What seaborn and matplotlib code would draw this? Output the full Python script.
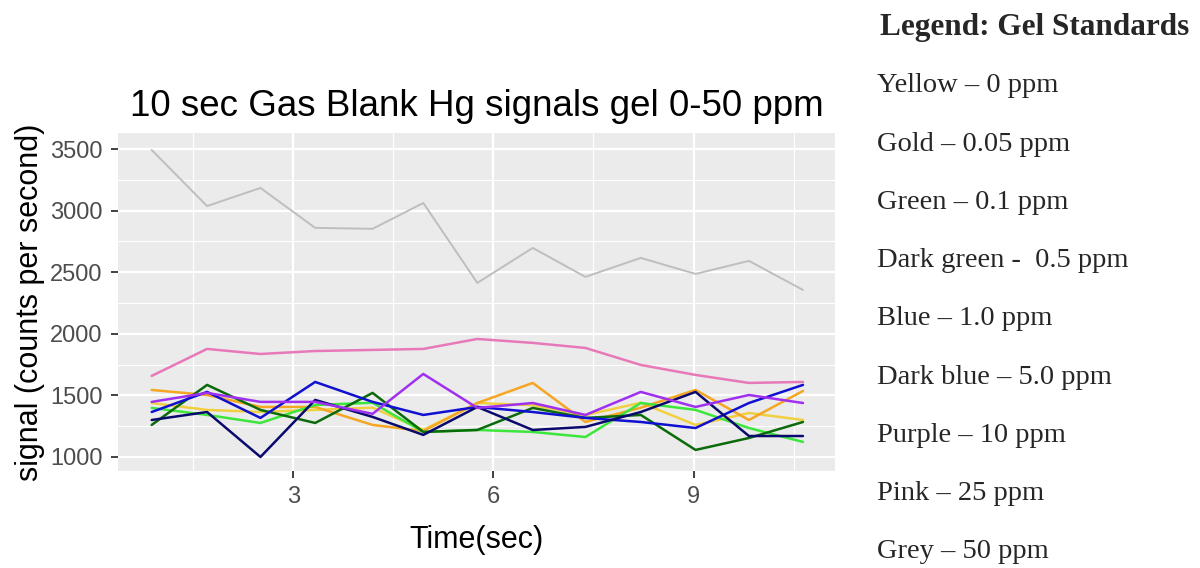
import numpy as np
import pandas as pd
import matplotlib
matplotlib.use("Agg")
import matplotlib.pyplot as plt
import seaborn as sns

# --- DATA ---
time_sec = [0.88, 1.71, 2.51, 3.33, 4.19, 4.95, 5.76, 6.59, 7.38, 8.21, 9.03, 9.83, 10.64]

yellow = [1438, 1382, 1365, 1382, 1400, 1220, 1438, 1420, 1340, 1440, 1260, 1357, 1300]
gold = [1544, 1503, 1406, 1406, 1260, 1210, 1438, 1601, 1284, 1400, 1544, 1300, 1536]
green = [1398, 1341, 1276, 1422, 1440, 1203, 1219, 1203, 1162, 1438, 1382, 1235, 1122]
dark_green = [1260, 1585, 1382, 1276, 1520, 1203, 1219, 1398, 1317, 1341, 1057, 1154, 1284]
blue = [1365, 1528, 1317, 1609, 1447, 1341, 1406, 1365, 1317, 1284, 1235, 1438, 1585]
dark_blue = [1300, 1365, 1000, 1463, 1325, 1179, 1406, 1219, 1244, 1365, 1528, 1170, 1170]
purple = [1447, 1520, 1447, 1447, 1350, 1674, 1398, 1438, 1341, 1528, 1406, 1503, 1438]
pink = [1658, 1877, 1836, 1860, 1869, 1877, 1958, 1926, 1885, 1747, 1666, 1601, 1609]
grey = [3492, 3037, 3184, 2860, 2852, 3062, 2413, 2697, 2462, 2616, 2486, 2592, 2356]

series_names = ["Yellow", "Gold", "Green", "Dark green", "Blue", "Dark blue", "Purple", "Pink", "Grey"]
series_values = [yellow, gold, green, dark_green, blue, dark_blue, purple, pink, grey]
line_colors = ["#F0D040", "#F5A623", "#3CE63C", "#0B6B0B", "#1010D0", "#0A0A6E", "#A030F0", "#E879B8", "#BEBEBE"]

legend_title = "Legend: Gel Standards"
legend_items = ["Yellow \u2013 0 ppm", "Gold \u2013 0.05 ppm", "Green \u2013 0.1 ppm",
                "Dark green -  0.5 ppm", "Blue \u2013 1.0 ppm", "Dark blue \u2013 5.0 ppm",
                "Purple \u2013 10 ppm", "Pink \u2013 25 ppm", "Grey \u2013 50 ppm"]

# long table for seaborn
rows = []
for name, vals in zip(series_names, series_values):
    for t, v in zip(time_sec, vals):
        rows.append({"Time": t, "Signal": v, "Standard": name})
df = pd.DataFrame(rows)

sns.set_theme(style="darkgrid")
plt.rcParams["font.family"] = ["Liberation Sans", "DejaVu Sans"]

fig = plt.figure(figsize=(12, 5.68), dpi=100)
fig.patch.set_facecolor("white")
W, H = 1200, 568
ax = fig.add_axes([118 / W, 1 - 471 / H, (835 - 118) / W, (471 - 133) / H])
ax.set_facecolor("#EBEBEB")

sns.lineplot(data=df, x="Time", y="Signal", hue="Standard", hue_order=series_names,
             palette=dict(zip(series_names, line_colors)), linewidth=1.8,
             legend=False, ax=ax, sort=False)
# grey line is drawn a bit thinner in the source
ax.lines[-1].set_linewidth(1.4)

ax.set_xlim(0.375, 11.12)
ax.set_ylim(886, 3630)
ax.set_xticks([3, 6, 9])
ax.set_yticks([1000, 1500, 2000, 2500, 3000, 3500])
ax.set_xticks([1.5, 4.5, 7.5, 10.5], minor=True)
ax.set_yticks([1250, 1750, 2250, 2750, 3250], minor=True)
ax.grid(which="major", color="white", linewidth=1.6)
ax.grid(which="minor", color="white", linewidth=0.8)
ax.set_axisbelow(True)
for s in ax.spines.values():
    s.set_visible(False)
ax.tick_params(which="major", length=5, width=1.3, color="#333333",
               labelsize=17, labelcolor="#4D4D4D", pad=6,
               bottom=True, left=True)
ax.tick_params(which="minor", length=0)

ax.set_xlabel("Time(sec)", fontsize=22, color="black", labelpad=12)
ax.set_ylabel("signal (counts per second)", fontsize=22, color="black", labelpad=4)
ax.set_title("10 sec Gas Blank Hg signals gel 0-50 ppm", fontsize=26.5, color="black", pad=12)

# text legend on the right, as in the source document
serif = ["Liberation Serif", "DejaVu Serif"]
fig.text(880 / W, 1 - 27 / H, legend_title, fontsize=22.5, fontweight="bold",
         family=serif, va="center", ha="left")
for i, item in enumerate(legend_items):
    fig.text(877 / W, 1 - (86 + 58.2 * i) / H, item, fontsize=20.5,
             family=serif, va="center", ha="left")

fig.savefig("out.png", dpi=100)
